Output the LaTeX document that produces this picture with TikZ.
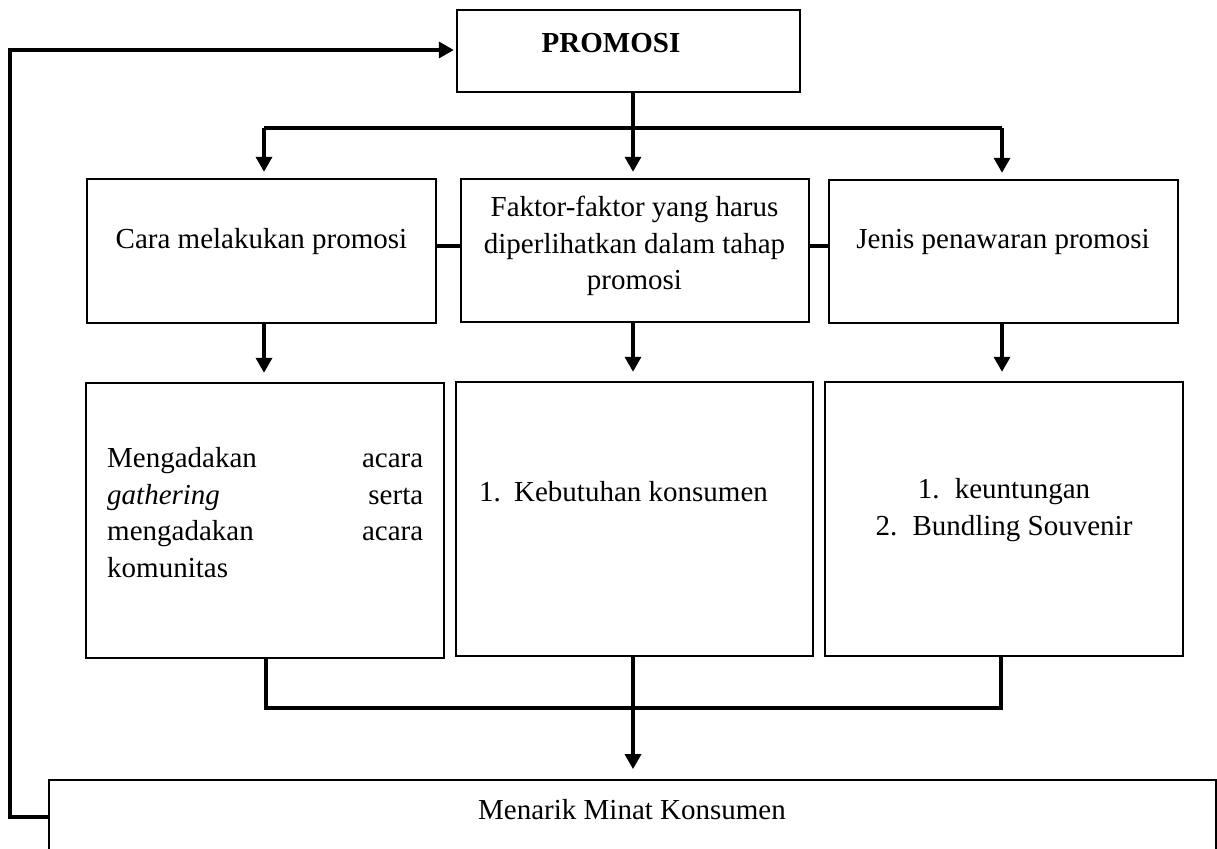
\documentclass[tikz,border=0pt]{standalone}
\usepackage{fontspec}
\setmainfont{Liberation Serif}
\usetikzlibrary{arrows.meta}
% one unit = 1pt, y grows downwards
\begin{document}
\begin{tikzpicture}[x=1pt,y=-1pt,
  box/.style={draw, line width=2.4pt, inner sep=0pt, minimum width=#1},
  txt/.style={inner sep=0pt, font=\fontsize{29}{36.8}\selectfont},
  conn/.style={line width=3.4pt},
  arr/.style={line width=3.4pt, -{Triangle[length=15pt,width=16pt]}}
]
\useasboundingbox (0,0) rectangle (1217,848);
\fill[white] (0,0) rectangle (1217,848);
\clip (0,0) rectangle (1217,848);

% ---- boxes ----
\node[box=343pt, minimum height=82pt]  (promosi) at (628.5,51) {};
\node[box=349pt, minimum height=144pt] (cara)    at (261.5,251) {};
\node[box=348pt, minimum height=143pt] (faktor)  at (635,250.5) {};
\node[box=349pt, minimum height=143pt] (jenis)   at (1003.5,251.5) {};
\node[box=358pt, minimum height=275pt] (kiri)    at (265,520.5) {};
\node[box=357pt, minimum height=274pt] (tengah)  at (634.5,519) {};
\node[box=358pt, minimum height=274pt] (kanan)   at (1004,519) {};
\node[draw, line width=1.8pt, inner sep=0pt, minimum width=1167pt, minimum height=120pt] (minat) at (632.5,840) {};

% ---- texts ----
\node[txt, font=\fontsize{29}{36.8}\selectfont\bfseries] (tpromosi) at (611,43) {PROMOSI};
\node[txt] (tcara) at (261.5,242) {Cara melakukan promosi};
\node[txt, align=center] (tfaktor) at (634.5,246) {Faktor-faktor yang harus\\diperlihatkan dalam tahap\\promosi};
\node[txt] (tjenis) at (1003,242) {Jenis penawaran promosi};
\node[txt, anchor=north west, text width=316pt, align=left] (tkiri) at (107,447)
  {Mengadakan\hfill acara\\\textit{gathering}\hfill serta\\mengadakan\hfill acara\\komunitas};
\node[txt, anchor=west] (ttengah) at (479,492) {\makebox[35pt][l]{1.}Kebutuhan konsumen};
\node[txt, align=center] (tkanan) at (1004,510) {\makebox[37pt][l]{1.}keuntungan\\\makebox[37pt][l]{2.}Bundling Souvenir};
\node[txt] (tminat) at (632,810) {Menarik Minat Konsumen};

% ---- branch points ----
\coordinate (bl) at (264,128);
\coordinate (bm) at (633,128);
\coordinate (br) at (1002,128);
\coordinate (jl) at (266,708);
\coordinate (jr) at (1001,708);
\coordinate (loop) at (10,50);
\coordinate (side) at (0,246);

% ---- connectors ----
\draw[arr, shorten >=6pt] (bm |- promosi.south) -- (bm |- faktor.north);
\draw[conn] (bl) -- (br);
\draw[arr, shorten >=6pt] (bl) -- (bl |- cara.north);
\draw[arr, shorten >=6pt] (br) -- (br |- jenis.north);

\draw[conn] (cara.east |- side) -- (faktor.west |- side);
\draw[conn] (faktor.east |- side) -- (jenis.west |- side);

\draw[arr, shorten >=9pt] (bl |- cara.south) -- (bl |- kiri.north);
\draw[arr, shorten >=9pt] (bm |- faktor.south) -- (bm |- tengah.north);
\draw[arr, shorten >=9pt] (br |- jenis.south) -- (br |- kanan.north);

\draw[conn] (jl |- kiri.south) -- (jl) -- (jr) -- (jr |- kanan.south);
\draw[arr, shorten >=10pt] (bm |- tengah.south) -- (bm |- minat.north);

\draw[arr, shorten >=2pt] (minat.west |- 0,817) -- (loop |- 0,817) -- (loop) -- (loop -| promosi.west);
\end{tikzpicture}
\end{document}
